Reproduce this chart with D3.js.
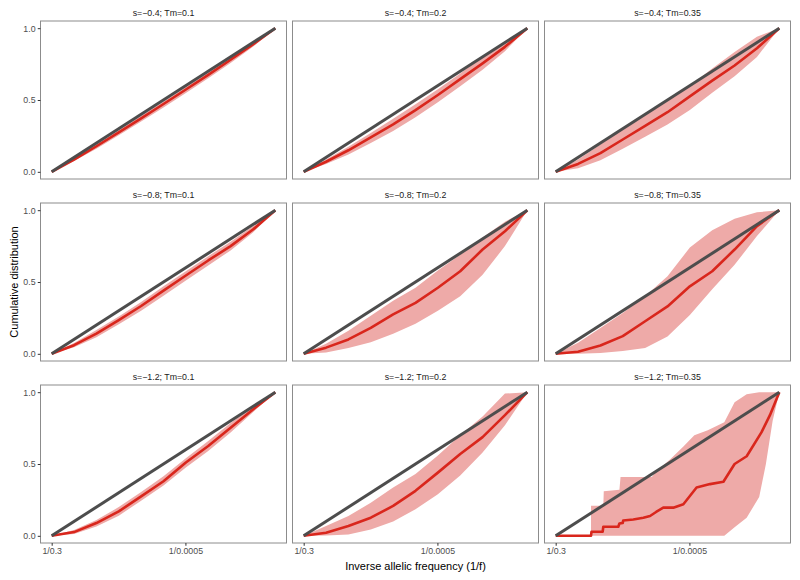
<!DOCTYPE html>
<html>
<head>
<meta charset="utf-8">
<script src="https://cdn.jsdelivr.net/npm/d3@7/dist/d3.min.js"></script>
<style>
  html, body { margin: 0; padding: 0; background: #fff; }
  svg { display: block; font-family: "Liberation Sans", Arial, Helvetica, sans-serif; }
</style>
</head>
<body>
<svg id="chart" width="800" height="580"></svg>
<script>
// ---------------- data ----------------
const sValues = ["-0.4", "-0.8", "-1.2"];
const tmValues = ["0.1", "0.2", "0.35"];
const xTickValues = [0, 0.598];
const xTickLabels = ["1/0.3", "1/0.0005"];
const yTickValues = [0, 0.5, 1];
const xTitle = "Inverse allelic frequency (1/f)";
const yTitle = "Cumulative distribution";

const xGrid = [0, 0.1, 0.2, 0.3, 0.4, 0.5, 0.6, 0.7, 0.8, 0.9, 1];

// s=-0.4
const mid_s04_t01 = [0, 0.085, 0.178, 0.274, 0.372, 0.472, 0.573, 0.675, 0.78, 0.887, 1];
const lo_s04_t01  = [0, 0.075, 0.16, 0.255, 0.35, 0.448, 0.548, 0.652, 0.757, 0.87, 1];
const hi_s04_t01  = [0, 0.095, 0.192, 0.29, 0.39, 0.49, 0.59, 0.692, 0.797, 0.9, 1];

const mid_s04_t02 = [0, 0.07, 0.15, 0.24, 0.33, 0.43, 0.535, 0.645, 0.755, 0.87, 1];
const lo_s04_t02  = [0, 0.055, 0.12, 0.2, 0.285, 0.38, 0.485, 0.595, 0.71, 0.84, 1];
const hi_s04_t02  = [0, 0.085, 0.175, 0.27, 0.37, 0.47, 0.575, 0.685, 0.805, 0.905, 1];

const mid_s04_t035 = [0, 0.055, 0.13, 0.225, 0.32, 0.415, 0.525, 0.635, 0.74, 0.86, 1];
const lo_s04_t035  = [0, 0.025, 0.08, 0.16, 0.245, 0.33, 0.43, 0.55, 0.665, 0.8, 1];
const hi_s04_t035  = [0, 0.085, 0.19, 0.3, 0.4, 0.495, 0.6, 0.72, 0.835, 0.94, 1];

// s=-0.8
const mid_s08_t01 = [0, 0.06, 0.14, 0.235, 0.333, 0.44, 0.545, 0.65, 0.75, 0.865, 1];
const lo_s08_t01  = [0, 0.045, 0.115, 0.205, 0.3, 0.405, 0.51, 0.615, 0.72, 0.845, 1];
const hi_s08_t01  = [0, 0.075, 0.165, 0.26, 0.36, 0.47, 0.575, 0.68, 0.78, 0.89, 1];

const mid_s08_t02 = [0, 0.043, 0.1, 0.18, 0.274, 0.355, 0.46, 0.575, 0.726, 0.853, 1];
const lo_s08_t02  = [0, 0.01, 0.04, 0.08, 0.14, 0.21, 0.3, 0.4, 0.55, 0.75, 1];
const hi_s08_t02  = [0, 0.07, 0.16, 0.265, 0.37, 0.46, 0.58, 0.69, 0.81, 0.92, 1];

const mid_s08_t035 = [0, 0.014, 0.058, 0.123, 0.227, 0.33, 0.47, 0.575, 0.726, 0.889, 1];
const lo_s08_t035  = [0, 0, 0.005, 0.02, 0.04, 0.12, 0.27, 0.45, 0.62, 0.82, 1];
const hi_s08_t035  = [0, 0.077, 0.18, 0.285, 0.4, 0.54, 0.74, 0.86, 0.94, 0.985, 1];

// s=-1.2
const mid_s12_t01 = [0, 0.026, 0.089, 0.17, 0.275, 0.38, 0.51, 0.625, 0.753, 0.88, 1];
const lo_s12_t01  = [0, 0.012, 0.065, 0.14, 0.245, 0.35, 0.475, 0.59, 0.72, 0.86, 1];
const hi_s12_t01  = [0, 0.04, 0.11, 0.2, 0.305, 0.415, 0.54, 0.66, 0.785, 0.9, 1];

const mid_s12_t02 = [0, 0.021, 0.068, 0.126, 0.208, 0.313, 0.44, 0.57, 0.687, 0.84, 1];
const lo_s12_t02  = [0, 0.002, 0.01, 0.044, 0.1, 0.185, 0.29, 0.42, 0.58, 0.77, 1];
const hi_s12_t02  = [0, 0.068, 0.138, 0.23, 0.336, 0.43, 0.56, 0.7, 0.83, 0.99, 1];

// s=-1.2, Tm=0.35 (step-like, own x positions)
const lineX_s12_t035 = [0, 0.158, 0.16, 0.21, 0.213, 0.28, 0.285, 0.30, 0.302, 0.347, 0.392, 0.422, 0.449, 0.481, 0.526, 0.571, 0.63, 0.69, 0.75, 0.80, 0.854, 0.92, 0.958, 1];
const lineY_s12_t035 = [0, 0, 0.028, 0.028, 0.063, 0.063, 0.086, 0.09, 0.107, 0.114, 0.126, 0.138, 0.166, 0.196, 0.196, 0.22, 0.336, 0.36, 0.376, 0.5, 0.554, 0.72, 0.84, 1];
const bandX_s12_t035  = [0.158, 0.213, 0.215, 0.285, 0.29, 0.43, 0.45, 0.51, 0.57, 0.62, 0.68, 0.754, 0.80, 0.854, 0.91, 0.94, 0.97, 1];
const bandLo_s12_t035 = [0, 0, 0, 0, 0, 0, 0, 0, 0, 0, 0, 0, 0.06, 0.126, 0.27, 0.5, 0.8, 1];
const bandHi_s12_t035 = [0.209, 0.209, 0.31, 0.32, 0.41, 0.41, 0.45, 0.53, 0.62, 0.70, 0.735, 0.79, 0.93, 0.985, 1, 1, 1, 1];

// panel list (row = s, column = Tm)
const panels = [
  {r: 0, c: 0, x: xGrid, mid: mid_s04_t01, bx: xGrid, lo: lo_s04_t01, hi: hi_s04_t01},
  {r: 0, c: 1, x: xGrid, mid: mid_s04_t02, bx: xGrid, lo: lo_s04_t02, hi: hi_s04_t02},
  {r: 0, c: 2, x: xGrid, mid: mid_s04_t035, bx: xGrid, lo: lo_s04_t035, hi: hi_s04_t035},
  {r: 1, c: 0, x: xGrid, mid: mid_s08_t01, bx: xGrid, lo: lo_s08_t01, hi: hi_s08_t01},
  {r: 1, c: 1, x: xGrid, mid: mid_s08_t02, bx: xGrid, lo: lo_s08_t02, hi: hi_s08_t02},
  {r: 1, c: 2, x: xGrid, mid: mid_s08_t035, bx: xGrid, lo: lo_s08_t035, hi: hi_s08_t035},
  {r: 2, c: 0, x: xGrid, mid: mid_s12_t01, bx: xGrid, lo: lo_s12_t01, hi: hi_s12_t01},
  {r: 2, c: 1, x: xGrid, mid: mid_s12_t02, bx: xGrid, lo: lo_s12_t02, hi: hi_s12_t02},
  {r: 2, c: 2, x: lineX_s12_t035, mid: lineY_s12_t035, bx: bandX_s12_t035, lo: bandLo_s12_t035, hi: bandHi_s12_t035}
];

// ---------------- layout ----------------
const svg = d3.select("#chart");
const plotLeft = 40.5, plotRight = 790.5, plotTop = 21, plotBottom = 543;
const colGap = 6, rowGap = 24;
const pw = (plotRight - plotLeft - 2 * colGap) / 3;
const ph = (plotBottom - plotTop - 2 * rowGap) / 3;

const colRed = "#d9261c", colBand = "#eeaaa8", colGrey = "#4d4d4d";

panels.forEach(p => {
  const x0 = plotLeft + p.c * (pw + colGap);
  const y0 = plotTop + p.r * (ph + rowGap);
  const xs = d3.scaleLinear().domain([-0.05, 1.05]).range([x0, x0 + pw]);
  const ys = d3.scaleLinear().domain([-0.05, 1.05]).range([y0 + ph, y0]);
  const g = svg.append("g");

  const band = p.bx.map((x, i) => ({x, lo: p.lo[i], hi: p.hi[i]}));
  g.append("path")
    .attr("d", d3.area().x(d => xs(d.x)).y0(d => ys(d.lo)).y1(d => ys(d.hi))(band))
    .attr("fill", colBand);

  const line = p.x.map((x, i) => ({x, y: p.mid[i]}));
  g.append("path")
    .attr("d", d3.line().x(d => xs(d.x)).y(d => ys(d.y))(line))
    .attr("fill", "none").attr("stroke", colRed).attr("stroke-width", 2.6)
    .attr("stroke-linejoin", "round");

  g.append("path")
    .attr("d", d3.line().x(d => xs(d[0])).y(d => ys(d[1]))([[0, 0], [1, 1]]))
    .attr("fill", "none").attr("stroke", colGrey).attr("stroke-width", 3);

  g.append("rect")
    .attr("x", x0).attr("y", y0).attr("width", pw).attr("height", ph)
    .attr("fill", "none").attr("stroke", "#8c8c8c").attr("stroke-width", 1);

  // strip label
  g.append("text")
    .attr("x", x0 + pw / 2).attr("y", y0 - 5.5)
    .attr("text-anchor", "middle")
    .attr("font-size", 8.8).attr("fill", "#1a1a1a")
    .text("s=" + sValues[p.r].replace("-", "\u2212") + "; Tm=" + tmValues[p.c]);

  if (p.c === 0) {
    const ax = g.append("g").attr("transform", `translate(${x0},0)`)
      .call(d3.axisLeft(ys).tickValues(yTickValues).tickFormat(d3.format(".1f"))
        .tickSize(2.75).tickPadding(2.2));
    ax.select(".domain").remove();
    ax.selectAll("line").attr("stroke", "#333");
    ax.selectAll("text").attr("font-size", 8.8).attr("fill", "#4d4d4d")
      .attr("font-family", "Liberation Sans, Arial, sans-serif");
  }
  if (p.r === 2) {
    const ax = g.append("g").attr("transform", `translate(0,${y0 + ph})`)
      .call(d3.axisBottom(xs).tickValues(xTickValues)
        .tickFormat((d, i) => xTickLabels[i]).tickSize(2.75).tickPadding(2.2));
    ax.select(".domain").remove();
    ax.selectAll("line").attr("stroke", "#333");
    ax.selectAll("text").attr("font-size", 8.8).attr("fill", "#4d4d4d")
      .attr("font-family", "Liberation Sans, Arial, sans-serif");
  }
});

svg.append("text")
  .attr("x", (plotLeft + plotRight) / 2).attr("y", 569.5)
  .attr("text-anchor", "middle").attr("font-size", 11).attr("fill", "#000")
  .text(xTitle);

svg.append("text")
  .attr("transform", `translate(17.5,${(plotTop + plotBottom) / 2}) rotate(-90)`)
  .attr("text-anchor", "middle").attr("font-size", 11).attr("fill", "#000")
  .text(yTitle);
</script>
</body>
</html>
